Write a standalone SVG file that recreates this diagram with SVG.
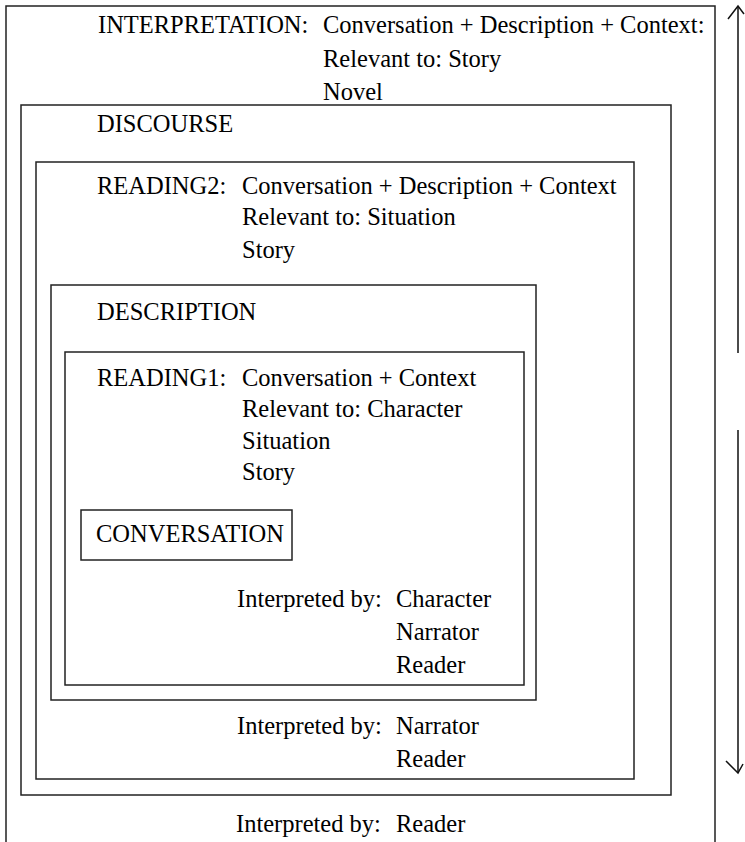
<svg xmlns="http://www.w3.org/2000/svg" width="745" height="842" viewBox="0 0 745 842">
<style>
text{font-family:"Liberation Serif","Times New Roman",serif;font-size:24.5px;fill:#000}
.box{fill:none;stroke:#222;stroke-width:1.5}
.arr{fill:none;stroke:#111;stroke-width:1.5}
</style>
<rect width="745" height="842" fill="#fff"/>
<g id="interpretation">
<path class="box" d="M6,842 V6 H715 V842"/>
<text x="98" y="33">INTERPRETATION:</text>
<text x="323" y="33">Conversation + Description + Context:</text>
<text x="323" y="67">Relevant to: Story</text>
<text x="323" y="100">Novel</text>
<text x="236" y="832">Interpreted by:</text>
<text x="396" y="832">Reader</text>
</g>
<g id="discourse">
<rect class="box" x="21" y="105" width="650" height="690"/>
<text x="97" y="132">DISCOURSE</text>
</g>
<g id="reading2">
<rect class="box" x="36" y="162" width="598" height="617"/>
<text x="97" y="194">READING2:</text>
<text x="242" y="194">Conversation + Description + Context</text>
<text x="242" y="225">Relevant to: Situation</text>
<text x="242" y="258">Story</text>
<text x="237" y="734">Interpreted by:</text>
<text x="396" y="734">Narrator</text>
<text x="396" y="767">Reader</text>
</g>
<g id="description">
<rect class="box" x="51" y="285" width="485" height="415"/>
<text x="97" y="320">DESCRIPTION</text>
</g>
<g id="reading1">
<rect class="box" x="65" y="352" width="459" height="333"/>
<text x="97" y="386">READING1:</text>
<text x="242" y="386">Conversation + Context</text>
<text x="242" y="417">Relevant to: Character</text>
<text x="242" y="449">Situation</text>
<text x="242" y="480">Story</text>
<text x="237" y="607">Interpreted by:</text>
<text x="396" y="607">Character</text>
<text x="396" y="640">Narrator</text>
<text x="396" y="673">Reader</text>
</g>
<g id="conversation">
<rect class="box" x="81" y="510" width="211" height="50"/>
<text x="96" y="542">CONVERSATION</text>
</g>
<g id="connectors">
<path class="arr" d="M738,6 V353 M738,430 V773"/>
<path class="arr" d="M728,19 L738,6 L744,14"/>
<path class="arr" d="M726,761 L738,773 L743,764"/>
</g>
</svg>
